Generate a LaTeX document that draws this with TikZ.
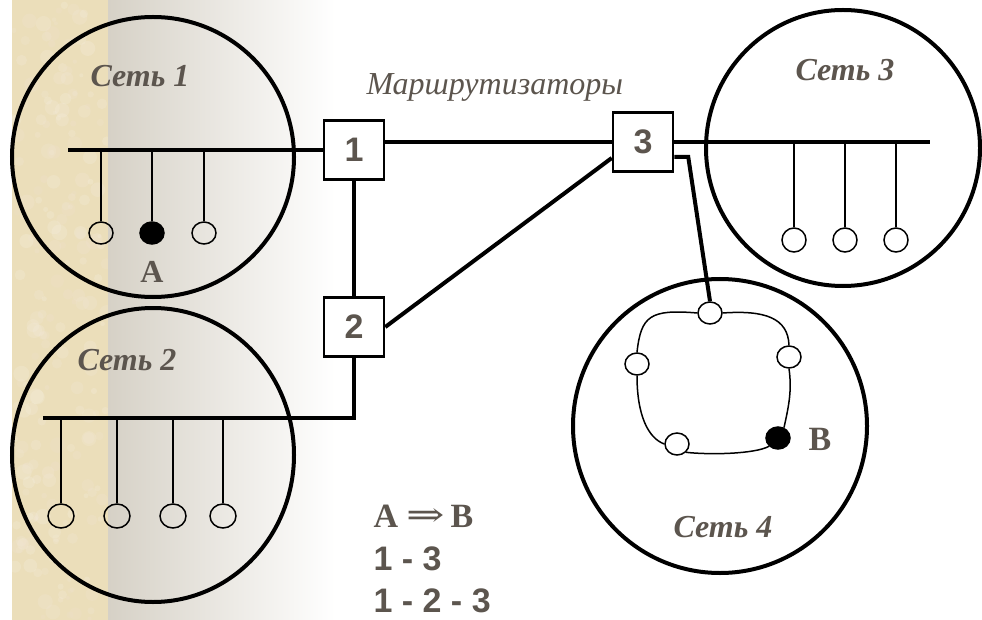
\documentclass[tikz,border=0pt]{standalone}
\usepackage{graphicx}
\usepackage{fontspec}
\setmainfont{Liberation Serif}
\newfontfamily\arialfont{Liberation Sans}
\newfontfamily\arrowfont{DejaVu Serif}
\usetikzlibrary{shapes.geometric}

\definecolor{labelgrey}{RGB}{92,85,78}
\definecolor{parchment}{RGB}{235,222,186}
\definecolor{fadegrey}{RGB}{214,209,198}

\tikzset{
  netring/.style={line width=4pt},
  bus/.style={line width=4pt},
  link/.style={line width=4pt},
  drop/.style={line width=1.5pt},
  router/.style={draw, fill=white, line width=2.5pt, minimum width=60pt,
    minimum height=59pt, inner sep=0pt, text=labelgrey,
    font=\arialfont\bfseries\fontsize{34}{34}\selectfont},
  host/.style={draw, ellipse, line width=1.5pt, minimum width=24pt,
    minimum height=22pt, inner sep=0pt},
  netlabel/.style={anchor=base west, text=labelgrey,
    font=\bfseries\itshape\fontsize{32}{36}\selectfont},
  pathtext/.style={anchor=base west, text=labelgrey,
    font=\arialfont\bfseries\fontsize{34}{34}\selectfont},
}

\begin{document}
\begin{tikzpicture}[x=1pt, y=-1pt]
  \useasboundingbox (0,0) rectangle (982,620);

  % фон: полоса пергамента и переход к белому
  \fill[white] (0,0) rectangle (982,620);
  \fill[parchment] (12,0) rectangle (108,620);
  \begin{scope}
    \clip (12,0) rectangle (108,620);
    \pgfmathsetseed{7}
    \foreach \i in {1,...,220}{
      \pgfmathsetmacro{\px}{12+96*rnd}
      \pgfmathsetmacro{\py}{620*rnd}
      \pgfmathsetmacro{\pr}{2+6*rnd}
      \pgfmathsetmacro{\pmix}{100*rnd}
      \fill[parchment!\pmix!brown!25!white, opacity=0.2] (\px,\py) circle (\pr);
    }
  \end{scope}
  \shade[left color=fadegrey, right color=white] (108,0) rectangle (335,620);

  % сети
  \draw[netring] (153,157) ellipse [x radius=141, y radius=140];
  \draw[netring] (153,455) ellipse [x radius=141, y radius=147];
  \draw[netring] (843,148) ellipse [x radius=137, y radius=138];
  \draw[netring] (720,426) ellipse [x radius=147, y radius=147];

  % маршрутизаторы
  \node[router] (r1) at (354,150) {1};
  \node[router] (r2) at (354,327) {2};
  \node[router] (r3) at (643,142) {3};

  % Сеть 1
  \coordinate (b1) at (68,150);
  \node[host] (h11) at (101,233) {};
  \node[host, fill=black] (h12) at (152,233) {};
  \node[host] (h13) at (204,233) {};
  \draw[bus] (b1) -- (r1.west);
  \foreach \h in {h11,h12,h13}
    \draw[drop] (\h.north) -- (\h |- b1);

  % Сеть 2
  \coordinate (b2) at (43,418);
  \node[host, minimum width=26pt, minimum height=24pt] (h21) at (61,516) {};
  \node[host, minimum width=26pt, minimum height=24pt] (h22) at (117,516) {};
  \node[host, minimum width=26pt, minimum height=24pt] (h23) at (173,516) {};
  \node[host, minimum width=26pt, minimum height=24pt] (h24) at (223,516) {};
  \draw[bus] (r2.south) |- (b2);
  \foreach \h in {h21,h22,h23,h24}
    \draw[drop] (\h.north) -- (\h |- b2);

  % Сеть 3
  \coordinate (b3) at (930,142);
  \node[host, minimum height=24pt] (h31) at (794,240) {};
  \node[host, minimum height=24pt] (h32) at (845,240) {};
  \node[host, minimum height=24pt] (h33) at (896,240) {};
  \draw[bus] (r3.east) -- (b3);
  \foreach \h in {h31,h32,h33}
    \draw[drop] (\h.north) -- (\h |- b3);

  % связи между маршрутизаторами
  \draw[link] (r1.east |- r3.west) -- (r3.west);
  \draw[link] (r1) -- (r2);
  \draw[link] (r2.east) -- ([yshift=-16pt]r3.west);

  % Сеть 4 (кольцо)
  \node[host] (h41) at (710,313) {};
  \node[host] (h42) at (789,357) {};
  \node[host, fill=black] (hB) at (778,438) {};
  \node[host] (h44) at (677,444) {};
  \node[host] (h45) at (637,364) {};
  \draw[link] ([yshift=-15pt]r3.east) -- ++(14,0) -- (h41.north);
  \draw[drop] (h41.west) .. controls (650,309) and (641,316) .. (h45.north);
  \draw[drop] (h45.south) .. controls (637,415) and (648,438) .. (h44.west);
  \draw[drop] (h44.south east) .. controls (710,455) and (755,454) .. (hB.south west);
  \draw[drop] (hB.60) .. controls (789,405) and (792,390) .. (h42.south);
  \draw[drop] (h42.north) .. controls (788,318) and (765,310) .. (h41.east);

  % подписи
  \node[netlabel] (n1) at (87,87) {Сеть 1};
  \node[netlabel] (n2) at (74,370) {Сеть 2};
  \node[netlabel] (n3) at (792,81) {Сеть 3};
  \node[netlabel] (n4) at (670,537) {Сеть 4};
  \node[anchor=base west, text=labelgrey,
    font=\itshape\fontsize{32}{36}\selectfont] (routers) at (363,95) {Маршрутизаторы};
  \node[anchor=base, text=labelgrey,
    font=\bfseries\fontsize{32}{32}\selectfont] (la) at (152,283) {A};
  \node[anchor=base west, text=labelgrey,
    font=\bfseries\fontsize{34}{34}\selectfont] (lb) at (805,450) {B};

  % маршруты
  \node[anchor=base west, text=labelgrey,
    font=\bfseries\fontsize{34}{34}\selectfont] (goal) at (370,527)
    {A\hspace{8pt}\raisebox{1pt}{\scalebox{1.35}[1]{\arrowfont\mdseries ⇒}}\hspace{6pt}B};
  \node[pathtext] (path1) at (370,570) {1 - 3};
  \node[pathtext] (path2) at (370,612) {1 - 2 - 3};

\end{tikzpicture}
\end{document}
